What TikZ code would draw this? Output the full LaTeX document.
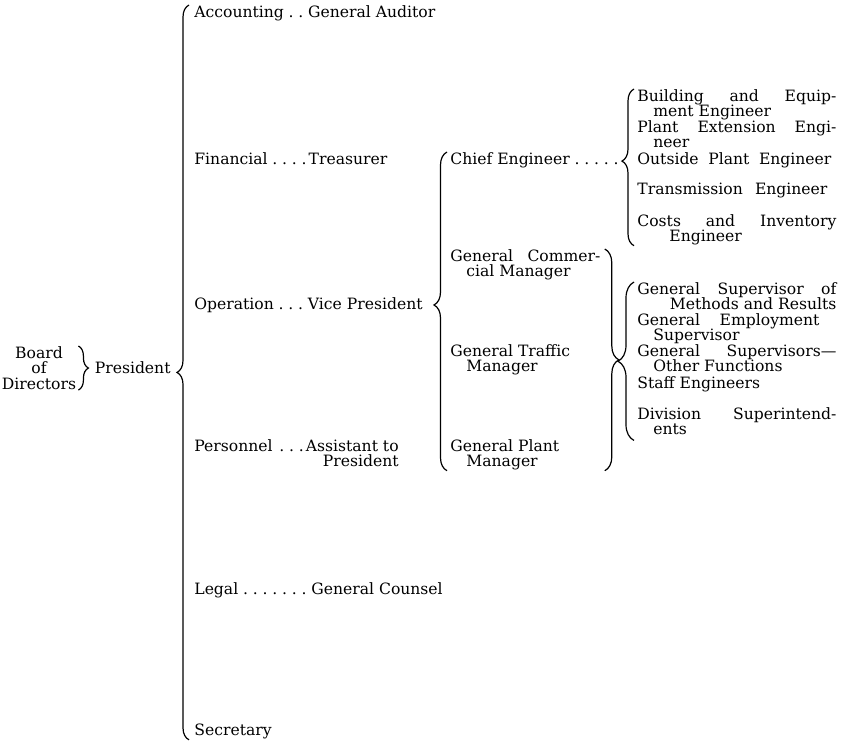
\documentclass[tikz,border=0pt]{standalone}
\usepackage{fontspec}
\setmainfont{DejaVu Serif}
\usetikzlibrary{decorations.pathreplacing,positioning}
\newlength{\rw}\setlength{\rw}{99.5pt}
\newcommand{\jl}[2][\rw]{\makebox[#1][s]{#2}}
\newcommand{\ldr}{\hspace{2.4pt}.}

\begin{document}
\begin{tikzpicture}[x=0.5pt, y=-0.5pt,
  font=\fontsize{7.8}{7.8}\selectfont,
  lbl/.style={inner sep=0pt, anchor=north west, align=left},
  brc/.style={decorate, line width=0.6pt, decoration={brace, amplitude=#1}},
  brc/.default=3pt
]
\useasboundingbox (0,0) rectangle (841,744);

% board and president
\node[inner sep=0pt, anchor=north, align=center] (bod) at (39,346) {Board\\of\\Directors};
\node[inner sep=0pt, right=9pt of bod] (pres) {President};

% departments and officers
\node[lbl] (acc) at (194,5) {Accounting\ldr\ldr\hspace{2.4pt}General Auditor};
\node[lbl] (fin) at (194,152) {Financial\ldr\ldr\ldr\ldr\hspace{1pt}Treasurer};
\node[lbl] (opr) at (194,297) {Operation\ldr\ldr\ldr\hspace{2.4pt}Vice President};
\node[lbl, align=right] (per) at (194,439) {Personnel\hspace{1pt}\ldr\ldr\ldr\hspace{1pt}Assistant to\\President};
\node[lbl] (leg) at (194,582) {Legal\ldr\ldr\ldr\ldr\ldr\ldr\ldr\hspace{2.4pt}General Counsel};
\node[lbl] (sec) at (194,724) {Secretary};

% under the vice president
\node[lbl] (chief) at (450,152) {Chief Engineer\ldr\ldr\ldr\ldr\ldr};
\node[lbl] (gcm) at (450,249) {\jl[75pt]{General Commer-}\\\hspace*{8pt}cial Manager};
\node[lbl] (gtm) at (450,344) {General Traffic\\\hspace*{8pt}Manager};
\node[lbl] (gpm) at (450,439) {General Plant\\\hspace*{8pt}Manager};

% engineers
\node[lbl] (bee) at (637,89) {\jl{Building and Equip-}\\\hspace*{8pt}ment Engineer};
\node[lbl] (pee) at (637,120) {\jl{Plant Extension Engi-}\\\hspace*{8pt}neer};
\node[lbl] (ope) at (637,152) {\jl[97pt]{Outside Plant Engineer}};
\node[lbl] (tre) at (637,183) {\jl[95pt]{Transmission Engineer}};
\node[lbl] (cie) at (637,214) {\jl{Costs and Inventory}\\\hspace*{16pt}Engineer};

% general staff
\node[lbl] (gsm) at (637,282) {\jl{General Supervisor of}\\\makebox[\rw][r]{Methods and Results}};
\node[lbl] (gem) at (637,313) {\jl[91pt]{General Employment}\\\hspace*{8pt}Supervisor};
\node[lbl] (gso) at (637,344) {\jl{General Supervisors---}\\\hspace*{8pt}Other Functions};
\node[lbl] (stf) at (637,376) {Staff Engineers};
\node[lbl] (div) at (637,407) {\jl{Division Superintend-}\\\hspace*{8pt}ents};

% braces
\draw[brc=5pt] ([xshift=1pt]bod.north east) -- ([xshift=1pt]bod.south east);
\draw[brc=6pt] ([xshift=-2.5pt]sec.south west) -- ([xshift=-2.5pt]acc.north west);
\draw[brc=6.5pt, decoration={aspect=0.52}] ([xshift=-1.5pt]gpm.south west) -- ([xshift=-1.5pt]chief.north west);
\draw[brc=6pt, decoration={aspect=0.54}] ([xshift=-1.5pt]cie.south west) -- ([xshift=-1.5pt]bee.north west);
\draw[brc=7pt] ([xshift=2pt]gcm.north east) -- ([xshift=2pt]gcm.north east |- gpm.south);
\draw[brc=8pt] ([xshift=-1.5pt,yshift=-2.5pt]div.south west) -- ([xshift=-1.5pt]gsm.north west);
\end{tikzpicture}
\end{document}
